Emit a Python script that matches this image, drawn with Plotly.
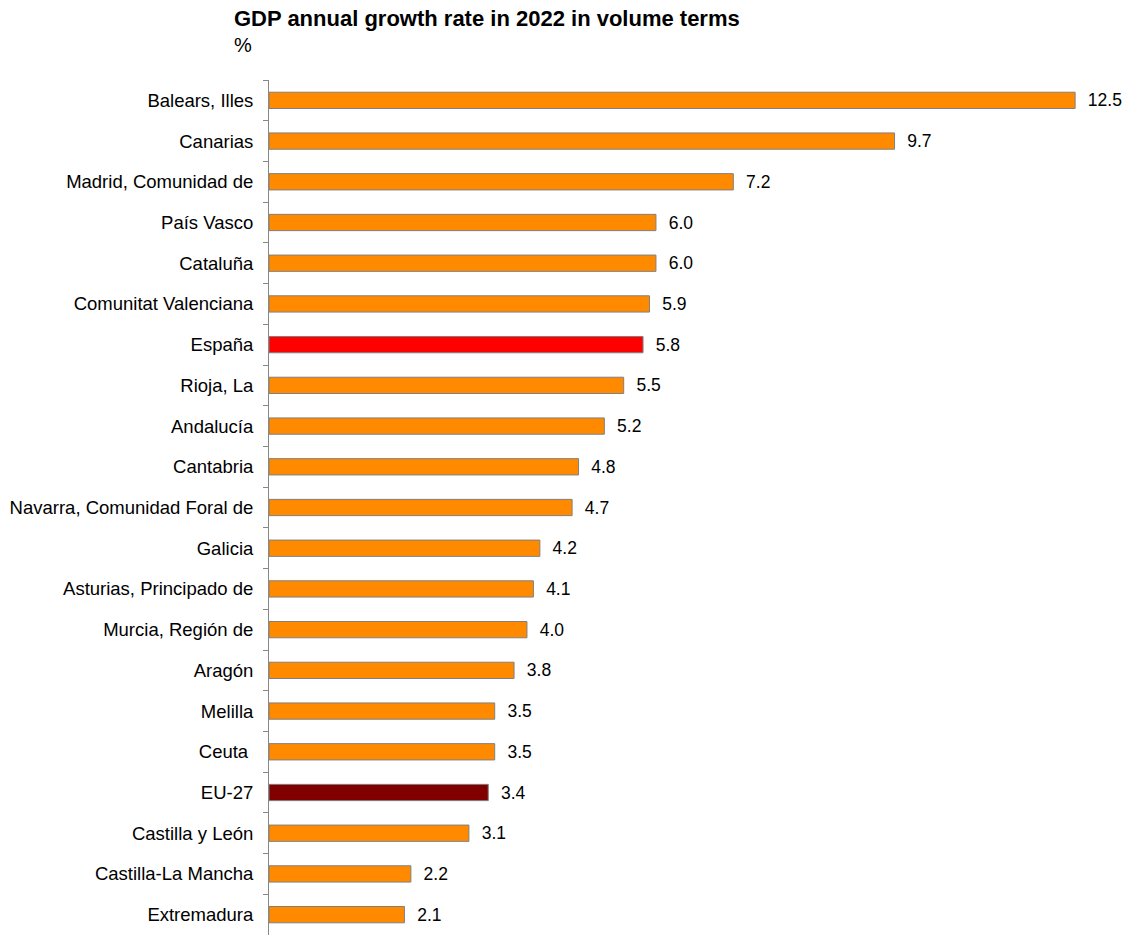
import plotly.graph_objects as go

regions = ["Balears, Illes", "Canarias", "Madrid, Comunidad de", "País Vasco", "Cataluña",
           "Comunitat Valenciana", "España", "Rioja, La", "Andalucía", "Cantabria",
           "Navarra, Comunidad Foral de", "Galicia", "Asturias, Principado de",
           "Murcia, Región de", "Aragón", "Melilla", "Ceuta ", "EU-27", "Castilla y León",
           "Castilla-La Mancha", "Extremadura"]
growth = [12.5, 9.7, 7.2, 6.0, 6.0, 5.9, 5.8, 5.5, 5.2, 4.8, 4.7, 4.2, 4.1, 4.0, 3.8,
          3.5, 3.5, 3.4, 3.1, 2.2, 2.1]

ORANGE = "#FF8A00"
special = {"España": "#FF0000", "EU-27": "#800000"}
colors = [special.get(r, ORANGE) for r in regions]

FONT = "Liberation Sans, Arial"

fig = go.Figure(go.Bar(
    x=growth, y=regions, orientation="h",
    marker=dict(color=colors, line=dict(color="#808080", width=1)),
    text=growth, texttemplate="\u00a0\u00a0%{x:.1f}", textposition="outside",
    textfont=dict(family=FONT, size=17.5, color="#000000"),
    constraintext="none",
    cliponaxis=False, width=0.4,
))

fig.update_layout(
    width=1128, height=935,
    margin=dict(l=269, r=0, t=80, b=0),
    paper_bgcolor="white", plot_bgcolor="white",
    showlegend=False,
    font=dict(family=FONT, size=17.5, color="#000000"),
    xaxis=dict(range=[0, 13.32], visible=False, showgrid=False, zeroline=False),
    yaxis=dict(autorange="reversed", type="category", showline=True, linecolor="#888888",
               linewidth=1, ticks="outside", tickson="boundaries", ticklen=5,
               tickcolor="#888888", showgrid=False, ticklabelstandoff=11,
               tickfont=dict(family=FONT, size=18.5, color="#000000")),
)
fig.add_annotation(text="<b>GDP annual growth rate in 2022 in volume terms</b>",
                   xref="paper", yref="paper", x=-37/859, y=1 + 61/855, xanchor="left",
                   yanchor="middle", showarrow=False,
                   font=dict(family=FONT, size=22, color="#000000"))
fig.add_annotation(text="%", xref="paper", yref="paper", x=-37/859, y=1 + 35/855,
                   xanchor="left", yanchor="middle", showarrow=False,
                   font=dict(family=FONT, size=20, color="#000000"))

fig.write_html("out.html")
